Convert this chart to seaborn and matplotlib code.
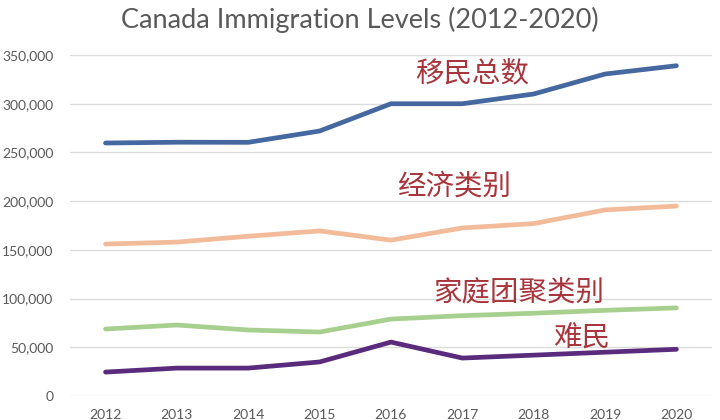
import seaborn as sns
import pandas as pd
import matplotlib.pyplot as plt
from matplotlib.ticker import FuncFormatter

years = [2012, 2013, 2014, 2015, 2016, 2017, 2018, 2019, 2020]
total = [259700, 260500, 260400, 272000, 300000, 300000, 310000, 330500, 339000]
economic = [156000, 158000, 164000, 169500, 160000, 172500, 177000, 191000, 195000]
family = [68800, 72900, 67800, 65700, 79000, 82500, 85000, 88000, 90500]
refugee = [24600, 28700, 28700, 35000, 55400, 39000, 42000, 45000, 48000]

series_names = ['移民总数', '经济类别', '家庭团聚类别', '难民']
series_values = [total, economic, family, refugee]
colors = ['#44689f', '#f2bc9b', '#a7d08f', '#5a2b7c']

rows = []
for name, vals in zip(series_names, series_values):
    for i, (yr, v) in enumerate(zip(years, vals)):
        rows.append({'pos': i, 'year': yr, 'value': v, 'series': name})
df = pd.DataFrame(rows)

sns.set_style('white')
plt.rcParams['font.family'] = ['Lato', 'Noto Sans CJK SC', 'DejaVu Sans']

fig = plt.figure(figsize=(7.2, 4.2), dpi=100)
ax = fig.add_axes([0.097, 0.057, 0.892, 0.812])

g = sns.lineplot(data=df, x='pos', y='value', hue='series', palette=colors,
                 hue_order=series_names, linewidth=3.4, legend=False, ax=ax)
for line in ax.lines:
    line.set_solid_joinstyle('round')
    line.set_solid_capstyle('round')

ax.set_xlim(-0.5, 8.5)
ax.set_ylim(0, 350000)
ax.set_yticks(range(0, 350001, 50000))
ax.yaxis.set_major_formatter(FuncFormatter(lambda v, p: f'{int(v):,}'))
ax.set_xticks(range(len(years)))
ax.set_xticklabels([str(y) for y in years])
ax.grid(axis='y', color='#dcdcdc', linewidth=1)
ax.set_axisbelow(True)
for s in ax.spines.values():
    s.set_visible(False)
ax.tick_params(axis='both', length=0, labelsize=10, colors='#595959')
ax.tick_params(axis='x', pad=9)
ax.tick_params(axis='y', pad=12)
ax.set_xlabel('')
ax.set_ylabel('')

fig.text(0.5, 0.953, 'Canada Immigration Levels (2012-2020)', ha='center', va='center',
         fontsize=19.5, color='#595959')

label_color = '#a8343c'
cjk = ['Noto Sans CJK SC', 'DejaVu Sans']
ax.text(4.34, 331600, '移民总数', fontsize=20.5, color=label_color, va='center', family=cjk)
ax.text(4.08, 214600, '经济类别', fontsize=20.5, color=label_color, va='center', family=cjk)
ax.text(4.59, 106800, '家庭团聚类别', fontsize=20.5, color=label_color, va='center', family=cjk)
ax.text(6.27, 59500, '难民', fontsize=20.5, color=label_color, va='center', family=cjk)

plt.savefig('out.png', dpi=100)
